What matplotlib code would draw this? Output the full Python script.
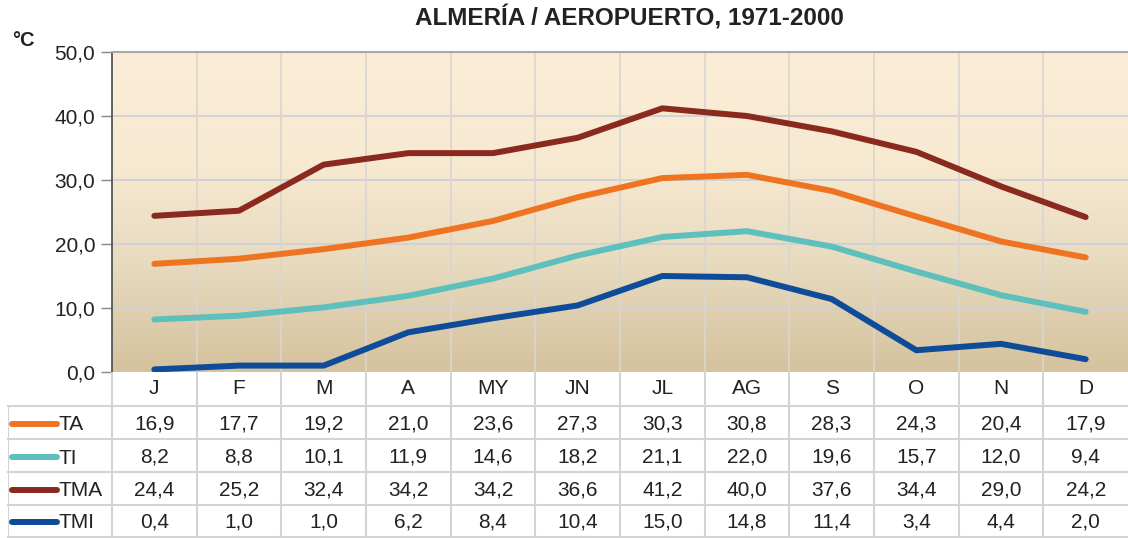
import numpy as np
import matplotlib
matplotlib.use("Agg")
import matplotlib.pyplot as plt
from matplotlib.colors import LinearSegmentedColormap

plt.rcParams['font.family'] = ['Liberation Sans', 'DejaVu Sans']

months = ['J', 'F', 'M', 'A', 'MY', 'JN', 'JL', 'AG', 'S', 'O', 'N', 'D']
ta = [16.9, 17.7, 19.2, 21.0, 23.6, 27.3, 30.3, 30.8, 28.3, 24.3, 20.4, 17.9]
ti = [8.2, 8.8, 10.1, 11.9, 14.6, 18.2, 21.1, 22.0, 19.6, 15.7, 12.0, 9.4]
tma = [24.4, 25.2, 32.4, 34.2, 34.2, 36.6, 41.2, 40.0, 37.6, 34.4, 29.0, 24.2]
tmi = [0.4, 1.0, 1.0, 6.2, 8.4, 10.4, 15.0, 14.8, 11.4, 3.4, 4.4, 2.0]

series_names = ['TA', 'TI', 'TMA', 'TMI']
series_values = [ta, ti, tma, tmi]
series_colors = ['#EE7421', '#5DC0BC', '#8A2A1F', '#0E4B99']

W, H = 1128, 538
fig = plt.figure(figsize=(W / 100, H / 100), dpi=100)

# main plot area (pixel coords converted to figure fractions)
px_left, px_right, px_top, px_bot = 112, 1128, 52, 372
ax = fig.add_axes([px_left / W, 1 - px_bot / H, (px_right - px_left) / W, (px_bot - px_top) / H])

x = np.arange(len(months))
ax.set_xlim(-0.5, 11.5)
ax.set_ylim(0, 50)

# background gradient
grad_cmap = LinearSegmentedColormap.from_list(
    'bg', [(0.0, '#D5C29E'), (0.35, '#E8DBC0'), (0.65, '#F8E9D1'), (1.0, '#FBEDD7')])
grad = np.linspace(0, 1, 256).reshape(-1, 1)
ax.imshow(grad, extent=(-0.5, 11.5, 0, 50), origin='lower', aspect='auto',
          cmap=grad_cmap, zorder=0)

# grid
for yv in range(10, 50, 10):
    ax.axhline(yv, color='#C9D0D8', lw=1.2, zorder=1)
for xv in np.arange(0.5, 11.5, 1):
    ax.axvline(xv, color='#D9D6D0', lw=1.2, zorder=1)

for name, vals, col in zip(series_names, series_values, series_colors):
    ax.plot(x, vals, color=col, lw=4.3, solid_joinstyle='round',
            solid_capstyle='round', zorder=3)

ax.set_yticks(range(0, 51, 10))
ax.set_yticklabels([f'{v},0' for v in range(0, 51, 10)], fontsize=15, color='#222222')
ax.tick_params(axis='y', length=8, width=1, color='#888888', pad=4)
ax.set_xticks([])
for s in ['right', 'bottom']:
    ax.spines[s].set_visible(False)
ax.spines['left'].set_color('#555555')
ax.spines['left'].set_linewidth(1.3)
ax.spines['top'].set_color('#A8A8A8')
ax.spines['top'].set_linewidth(1.5)

fig.text(629 / W, 1 - 18 / H, 'ALMERÍA / AEROPUERTO, 1971-2000', ha='center',
         va='center', fontsize=17.5, fontweight='bold', color='#222222')
fig.text(23 / W, 1 - 40 / H, '°C', ha='center', va='center', fontsize=14.5,
         fontweight='bold', color='#222222')

# data table below the chart
tab_left = 8
unit = (px_right - px_left) / 12
x0 = -0.5 - (px_left - tab_left) / unit
tab = fig.add_axes([tab_left / W, 0, (px_right - tab_left) / W, (H - px_bot) / H])
tab.set_xlim(x0, 11.5)
tab.set_ylim(H, px_bot)
tab.axis('off')

row_lines = [406, 439, 472, 505, 537]
grid_col = '#D4D4D4'
for yl in row_lines:
    tab.plot([x0, 11.5], [yl, yl], color=grid_col, lw=1.5, clip_on=False)
tab.plot([x0, x0], [row_lines[0], H], color=grid_col, lw=1.5)
for xv in np.arange(-0.5, 11.5, 1):
    tab.plot([xv, xv], [px_bot, H], color=grid_col, lw=1.5)

for i, m in enumerate(months):
    tab.text(i, 388, m, ha='center', va='center', fontsize=15, color='#222222')

row_centers = [424, 457, 490, 522]
key_a = x0 + 4 / unit
key_b = x0 + 49 / unit
for name, vals, col, yc in zip(series_names, series_values, series_colors, row_centers):
    tab.plot([key_a, key_b], [yc, yc], color=col, lw=4.3, solid_capstyle='round')
    tab.text(key_b + 2 / unit, yc + 1, name, ha='left', va='center', fontsize=15,
             color='#222222')
    for i, v in enumerate(vals):
        tab.text(i, yc, f'{v:.1f}'.replace('.', ','), ha='center', va='center',
                 fontsize=15, color='#222222')

fig.savefig('out.png', dpi=100)
